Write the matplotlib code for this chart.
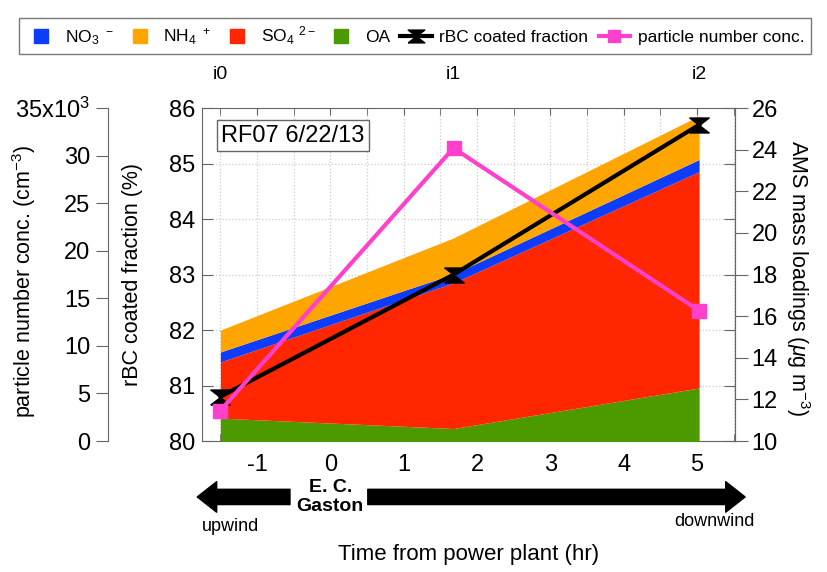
import matplotlib
matplotlib.use('Agg')
import matplotlib.pyplot as plt
from matplotlib.lines import Line2D
from matplotlib.ticker import MultipleLocator, FuncFormatter

plt.rcParams['font.family'] = ['Liberation Sans', 'DejaVu Sans']
plt.rcParams['mathtext.fontset'] = 'custom'
plt.rcParams['mathtext.rm'] = 'Liberation Sans'
plt.rcParams['mathtext.it'] = 'Liberation Sans:italic'
plt.rcParams['axes.unicode_minus'] = False

# data
hours = [-1.5, 1.68, 5.03]          # time from power plant (hr)
transect = ['i0', 'i1', 'i2']
oa = [11.1, 10.6, 12.55]            # AMS species, ug m-3
so4 = [2.7, 7.0, 10.4]
no3 = [0.48, 0.43, 0.58]
nh4 = [1.05, 1.73, 2.1]
rbc_coated = [80.8, 83.0, 85.7]     # %
part_num = [3200, 30800, 13700]     # cm-3

c_no3 = '#0d3dfb'
c_nh4 = '#ffa500'
c_so4 = '#ff2600'
c_oa = '#4c9900'
c_pink = '#ff40cc'
gris = '#666666'

fig = plt.figure(figsize=(8.27, 5.72), dpi=100)
ax = fig.add_axes([0.2443, 0.229, 0.6445, 0.582])
ax_ams = ax.twinx()
ax_line = ax.twinx()
ax_pn = ax.twinx()

# stacked AMS areas
b1 = [a + b for a, b in zip(oa, so4)]
b2 = [a + b for a, b in zip(b1, no3)]
b3 = [a + b for a, b in zip(b2, nh4)]
ax_ams.fill_between(hours, 0, oa, color=c_oa, lw=0)
ax_ams.fill_between(hours, oa, b1, color=c_so4, lw=0)
ax_ams.fill_between(hours, b1, b2, color=c_no3, lw=0)
ax_ams.fill_between(hours, b2, b3, color=c_nh4, lw=0)

# rBC coated fraction line
bowtie = [(-1.3, -1), (1.3, -1), (-1.3, 1), (1.3, 1), (-1.3, -1)]
ax_line.plot(hours, rbc_coated, color='black', lw=3, marker=bowtie, ms=14)

# particle number line
ax_pn.plot(hours, part_num, color=c_pink, lw=3, marker='s', ms=10)

# limits
ax.set_xlim(-1.75, 5.52)
ax.set_ylim(80, 86)
ax_line.set_ylim(80, 86)
ax_ams.set_ylim(10, 26)
ax_pn.set_ylim(0, 35000)

# main axis (rBC)
ax.xaxis.set_major_locator(MultipleLocator(1))
ax.xaxis.set_minor_locator(MultipleLocator(0.5))
ax.yaxis.set_major_locator(MultipleLocator(1))
ax.grid(True, axis='x', which='both', color='#cccccc', ls=':', lw=0.9)
ax.grid(True, axis='y', which='major', color='#cccccc', ls=':', lw=0.9)
ax.tick_params(axis='x', which='both', direction='in', top=True, length=5,
               color=gris, labelsize=17, pad=9)
ax.tick_params(axis='y', direction='in', right=True, length=8, color=gris,
               labelsize=17, pad=5)
for s in ax.spines.values():
    s.set_color(gris)
ax.set_ylabel('rBC coated fraction (%)', fontsize=15.5)
ax.yaxis.set_label_coords(-0.111, 0.5)
ax.set_xlabel('Time from power plant (hr)', fontsize=16)
ax.xaxis.set_label_coords(0.5, -0.31)

# AMS axis (right)
ax_ams.yaxis.set_major_locator(MultipleLocator(2))
ax_ams.tick_params(axis='y', direction='out', length=9, color=gris,
                   labelsize=17, pad=3)
for k in ['left', 'top', 'bottom']:
    ax_ams.spines[k].set_visible(False)
ax_ams.spines['right'].set_color(gris)
ax_ams.set_ylabel('AMS mass loadings ($\\mu$g m$^{-3}$)', fontsize=15.5,
                  rotation=270)
ax_ams.yaxis.set_label_coords(1.145, 0.49)

ax_line.axis('off')

# particle number axis (far left)
for k in ['right', 'top', 'bottom']:
    ax_pn.spines[k].set_visible(False)
ax_pn.spines['left'].set_visible(True)
ax_pn.spines['left'].set_position(('axes', -0.176))
ax_pn.spines['left'].set_color(gris)
ax_pn.yaxis.set_ticks_position('left')
ax_pn.yaxis.set_label_position('left')
ax_pn.yaxis.set_major_locator(MultipleLocator(5000))


def fmt_pn(v, pos):
    if v >= 35000:
        return '35x10$^3$'
    return '%d' % (v / 1000)


ax_pn.yaxis.set_major_formatter(FuncFormatter(fmt_pn))
ax_pn.tick_params(axis='y', direction='out', length=9, color=gris,
                  labelsize=17, pad=4)
ax_pn.set_ylabel('particle number conc. (cm$^{-3}$)', fontsize=15.5)
ax_pn.yaxis.set_label_coords(-0.308, 0.48)

# transect labels on top
for h, t in zip(hours, transect):
    ax_pn.annotate(t, xy=(h, 1), xycoords=('data', 'axes fraction'),
                   xytext=(0, 24), textcoords='offset points',
                   ha='center', va='center', fontsize=14)

# flight label
ax_pn.text(0.036, 0.917, 'RF07 6/22/13', transform=ax.transAxes,
           fontsize=17, ha='left', va='center',
           bbox=dict(boxstyle='square,pad=0.2', fc='white', ec=gris, lw=1))

# wind arrows under the x axis
flecha = dict(arrowstyle='simple,head_length=0.7,head_width=1.1,tail_width=0.55',
              fc='black', ec='black', shrinkA=0, shrinkB=0)
ax.annotate('', xy=(-0.009, -0.168), xytext=(0.165, -0.168),
            xycoords='axes fraction', arrowprops=dict(flecha, mutation_scale=20),
            annotation_clip=False)
ax.annotate('', xy=(1.019, -0.168), xytext=(0.311, -0.168),
            xycoords='axes fraction', arrowprops=dict(flecha, mutation_scale=20),
            annotation_clip=False)
ax.text(0, -0.168, 'E. C.\nGaston', transform=ax.get_xaxis_transform(),
        ha='center', va='center', fontsize=14, fontweight='bold',
        linespacing=1.2)
ax.text(0.0, -0.258, 'upwind', transform=ax.transAxes, ha='left',
        va='center', fontsize=13)
ax.text(1.037, -0.243, 'downwind', transform=ax.transAxes, ha='right',
        va='center', fontsize=13)

# legend
handles = [
    Line2D([], [], ls='none', marker='s', ms=10, color=c_no3),
    Line2D([], [], ls='none', marker='s', ms=10, color=c_nh4),
    Line2D([], [], ls='none', marker='s', ms=10, color=c_so4),
    Line2D([], [], ls='none', marker='s', ms=10, color=c_oa),
    Line2D([], [], color='black', lw=3, marker=bowtie, ms=12),
    Line2D([], [], color=c_pink, lw=3, marker='s', ms=8),
]
labels = ['NO$_3$ $^-$', 'NH$_4$ $^+$', 'SO$_4$ $^{2-}$', 'OA',
          'rBC coated fraction', 'particle number conc.']
leg = fig.legend(handles, labels, loc='center', ncol=6,
                 bbox_to_anchor=(415 / 827, 1 - 36 / 572),
                 prop={'size': 12.5},
                 frameon=True, fancybox=False, edgecolor='#777777',
                 framealpha=1, numpoints=1, handlelength=1.8,
                 handletextpad=0.45, columnspacing=0.6, borderpad=0.4)
leg.get_frame().set_linewidth(1)

fig.savefig('out.png', dpi=100)
